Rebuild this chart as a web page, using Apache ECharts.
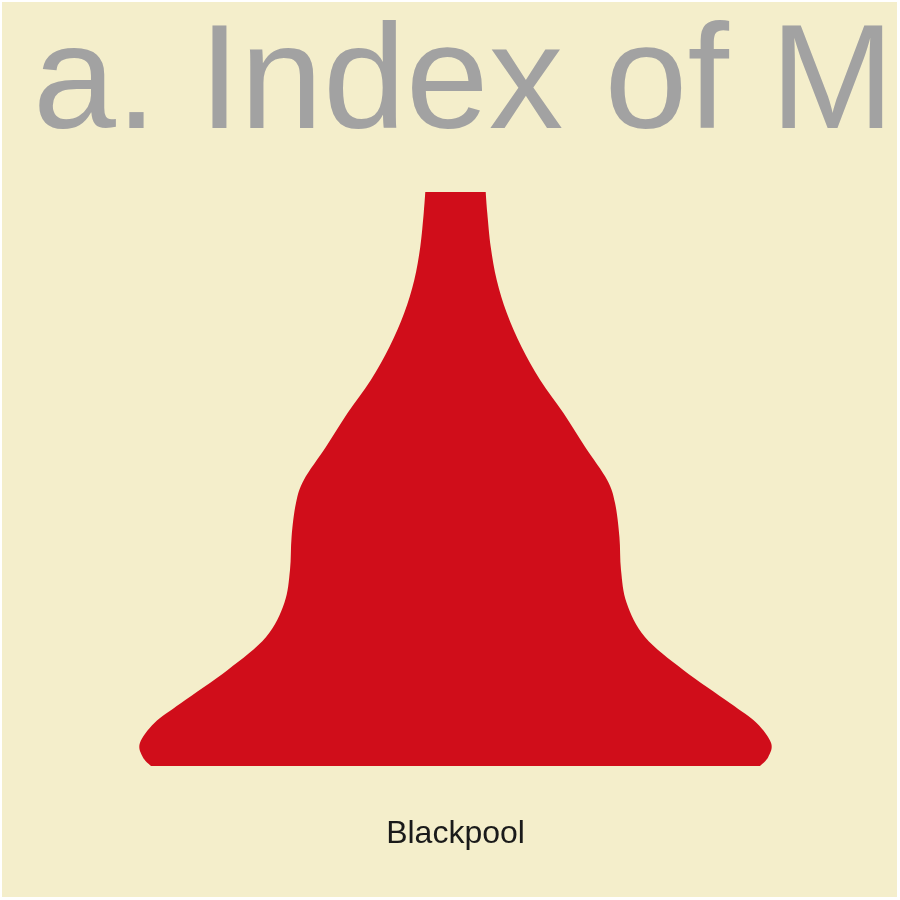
<!DOCTYPE html>
<html>
<head>
<meta charset="utf-8">
<script src="https://cdn.jsdelivr.net/npm/echarts@6/dist/echarts.min.js"></script>
<style>
  html, body { margin: 0; padding: 0; background: #fff; }
  #violin { width: 900px; height: 900px; }
</style>
</head>
<body>
<div id="violin"></div>
<script>
// category + violin outline (index value -> relative density)
var categories = ['Blackpool'];
var indexValues = [5, 6.1, 7.8, 10.24, 12.68, 16.71, 20.73, 24.88, 28.9, 32.93, 37.07, 39.88, 43.9, 48.05, 52.07, 56.1, 60.24, 64.27, 68.29, 72.44, 75];
var density = [0.968, 0.994, 1.003, 0.957, 0.872, 0.724, 0.602, 0.544, 0.526, 0.521, 0.507, 0.482, 0.412, 0.343, 0.269, 0.21, 0.163, 0.131, 0.112, 0.101, 0.096];
var titleText = 'a. Index of M';

var chart = echarts.init(document.getElementById('violin'));

// catmull-rom through the edge points, drawn as cubic beziers
function edgePath(pts) {
  var d = '';
  for (var i = 0; i < pts.length - 1; i++) {
    var p0 = pts[Math.max(i - 1, 0)], p1 = pts[i], p2 = pts[i + 1], p3 = pts[Math.min(i + 2, pts.length - 1)];
    var c1 = [p1[0] + (p2[0] - p0[0]) / 6, p1[1] + (p2[1] - p0[1]) / 6];
    var c2 = [p2[0] - (p3[0] - p1[0]) / 6, p2[1] - (p3[1] - p1[1]) / 6];
    d += ' C' + c1[0] + ' ' + c1[1] + ' ' + c2[0] + ' ' + c2[1] + ' ' + p2[0] + ' ' + p2[1];
  }
  return d;
}

var option = {
  backgroundColor: '#ffffff',
  animation: false,
  graphic: [{
    type: 'rect',
    z: -10,
    shape: {x: 2, y: 2, width: 895, height: 895},
    style: {fill: '#f4eecb'}
  }],
  title: {
    text: titleText,
    left: 33,
    top: 12,
    padding: 0,
    textStyle: {
      fontFamily: 'Liberation Sans',
      fontWeight: 'normal',
      fontSize: 149,
      color: '#a2a2a2'
    }
  },
  grid: {left: 15, right: 4, top: 192, bottom: 134},
  xAxis: [
    {
      type: 'category',
      data: categories,
      axisLine: {show: false},
      axisTick: {show: false},
      splitLine: {show: false},
      axisLabel: {
        margin: 52,
        fontFamily: 'Liberation Sans',
        fontSize: 32,
        color: '#1a1a1a'
      }
    }, {
      type: 'value',
      show: false,
      min: -1.4,
      max: 1.4
    }
  ],
  yAxis: {
    type: 'value',
    show: false,
    min: 5,
    max: 75
  },
  series: [{
    type: 'custom',
    xAxisIndex: 1,
    data: [0],
    renderItem: function (params, api) {
      var right = [], left = [];
      for (var i = 0; i < indexValues.length; i++) {
        right.push(api.coord([density[i], indexValues[i]]));
      }
      for (var j = indexValues.length - 1; j >= 0; j--) {
        left.push(api.coord([-density[j], indexValues[j]]));
      }
      var d = 'M' + right[0][0] + ' ' + right[0][1] + edgePath(right) +
        ' L' + left[0][0] + ' ' + left[0][1] + edgePath(left) + ' Z';
      return {
        type: 'path',
        shape: {pathData: d},
        style: {fill: '#d00d1a', stroke: null}
      };
    }
  }]
};

chart.setOption(option);
</script>
</body>
</html>
